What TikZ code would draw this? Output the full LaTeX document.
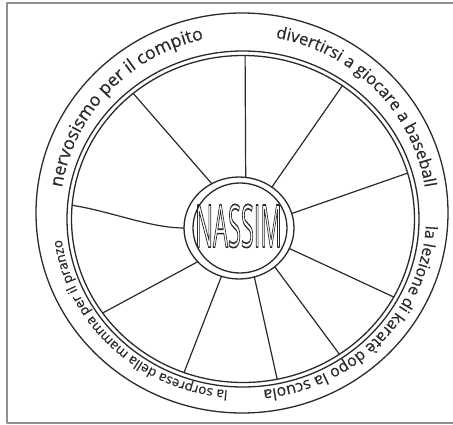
\documentclass[tikz,border=0pt]{standalone}
\usepackage{fontspec}
\setmainfont{Open Sans}
\newfontfamily\ringfont{Open Sans}[FakeBold=0.4]
\usetikzlibrary{decorations.text}
\definecolor{ink}{HTML}{2A2A2A}
\definecolor{framegray}{HTML}{909090}
\begin{document}
\begin{tikzpicture}[x=1pt,y=-1pt,line join=round,line cap=round,
  wheelline/.style={draw=ink,line width=1.3pt},
  spokeline/.style={draw=ink,line width=1.2pt},
  framebox/.style={draw=framegray,line width=2pt}]
\useasboundingbox (0,0) rectangle (453,425);
\fill[white] (0,0) rectangle (453,425);
\draw[framebox] (480,3) -- (7,3) -- (7,423) -- (480,423);

% wheel rings
\draw[wheelline] (242,213) ellipse [x radius=206, y radius=200];
\draw[wheelline] (243,219) ellipse [x radius=176, y radius=168];
\draw[wheelline] (243,219) ellipse [x radius=171.5, y radius=163.5];
% hub
\draw[wheelline] (239,228) ellipse [x radius=55, y radius=51];
\draw[wheelline] (240,228) ellipse [x radius=47, y radius=45];
\node[text=ink,inner sep=0pt] (name) at (238.5,226)
  {\scalebox{0.4}[1]{\fontsize{59}{59}\selectfont\special{pdf:code 1 Tr 1.6 w}NASSIM\special{pdf:code 0 Tr}}};

% spoke end points (rim, hub)
\foreach \n/\b/\a in {1/270.7/277, 2/305.4/306.7, 3/343.7/343.5, 4/28.5/23.7,
                      5/55.8/49.5, 6/78.5/73.8, 7/110.1/108.6, 8/144.9/138.6,
                      9/184.8/180, 10/230.2/240.3}{
  \path (243,219) ++(\b:171.5 and 163.5) coordinate (r\n);
  \path (239,228) ++(\a:55 and 51) coordinate (h\n);
}
\foreach \n in {1,2,3,4,5,6,7,8,10}{\draw[spokeline] (r\n) -- (h\n);}
\draw[spokeline] (r9) .. controls (110,211) and (150,228) .. (h9);

% ring texts
\path[decorate,decoration={text along path,text align=center,text color=ink,
  text={|\ringfont\fontsize{18}{18}\selectfont|nervosismo per il compito}}]
  (243,215) ++(163:183 and 180) arc[start angle=163,end angle=283,x radius=183,y radius=180];
\path[decorate,decoration={text along path,text align=center,text color=ink,
  text={|\ringfont\fontsize{16.7}{16.7}\selectfont|divertirsi a giocare a baseball}}]
  (243,215) ++(256:184 and 180) arc[start angle=256,end angle=376,x radius=184,y radius=180];
\path[decorate,decoration={text along path,text align=center,text color=ink,
  text={|\ringfont\fontsize{16}{16}\selectfont|la lezione di karatè dopo la scuola}}]
  (243,216) ++(-17:183 and 175) arc[start angle=-17,end angle=103,x radius=183,y radius=175];
\path[decorate,decoration={text along path,text align=center,text color=ink,
  text={|\ringfont\fontsize{13.5}{13.5}\selectfont|la sorpresa della mamma per il pranzo}}]
  (243,216) ++(74:183 and 175) arc[start angle=74,end angle=194,x radius=183,y radius=175];
\end{tikzpicture}
\end{document}
